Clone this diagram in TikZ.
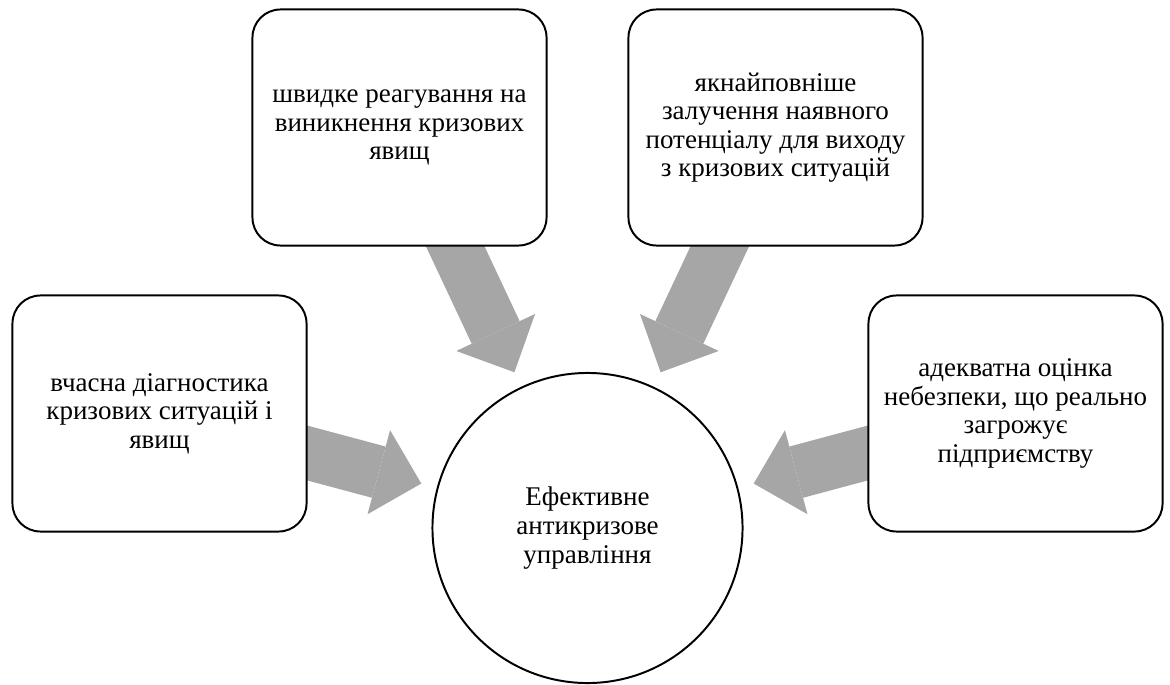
\documentclass[tikz,border=0pt]{standalone}
\usepackage{fontspec}
\setmainfont{Liberation Serif}
\usetikzlibrary{arrows.meta,backgrounds}
\definecolor{arrowgray}{HTML}{A6A6A6}
\tikzset{
    task/.style={draw, line width=1.4pt, rounded corners=0.7cm, fill=white,
        minimum width=7.35cm, minimum height=5.9cm, inner sep=0pt, align=center,
        font=\fontsize{19.2}{20.3}\selectfont},
    goal/.style={draw, circle, line width=1.4pt, fill=white, minimum size=7.75cm,
        inner sep=0pt, align=center, font=\fontsize{19.2}{20.3}\selectfont},
    push/.style={arrowgray, line width=1.325cm,
        -{Triangle[length=1.1cm, width=2.175cm, line width=0pt]},
        shorten >=0.4cm, shorten <=-0.6cm}
}
\begin{document}
\begin{tikzpicture}[x=0.025cm, y=-0.025cm]
    \useasboundingbox (0,0) rectangle (1170,684);

    \node[goal] (core) at (587.5,528) {Ефективне\\антикризове\\управління};

    \node[task] (diag) at (159.5,413.5) {вчасна діагностика\\кризових ситуацій і\\явищ};
    \node[task] (react) at (399.5,127.5) {швидке реагування на\\виникнення кризових\\явищ};
    \node[task] (use) at (775.5,127.5) {якнайповніше\\залучення наявного\\потенціалу для виходу\\з кризових ситуацій};
    \node[task] (risk) at (1015.5,413.5) {адекватна оцінка\\небезпеки, що реально\\загрожує\\підприємству};

    % block arrows behind the boxes
    \begin{scope}[on background layer]
        \draw[push] (diag) -- (core);
        \draw[push] (react) -- (core);
        \draw[push] (use) -- (core);
        \draw[push] (risk) -- (core);
    \end{scope}
\end{tikzpicture}
\end{document}
